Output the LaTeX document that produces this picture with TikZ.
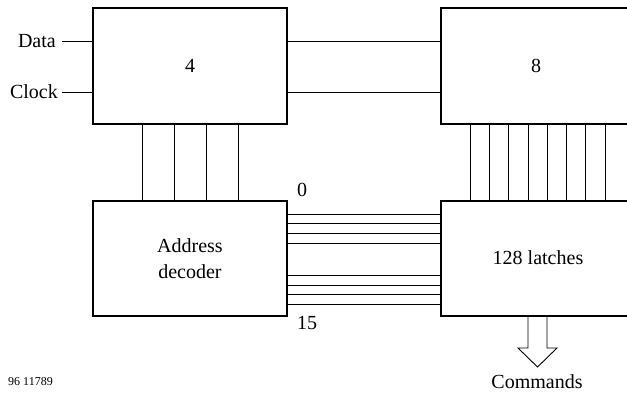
\documentclass[tikz,border=0pt]{standalone}
\usepackage{fontspec}
\setmainfont{Liberation Serif}
\begin{document}
\begin{tikzpicture}[x=1pt,y=-1pt,
  blk/.style={draw,line width=1.8pt,inner sep=0pt,font=\fontsize{20}{26}\selectfont,align=center},
  wire/.style={line width=0.8pt},
  lbl/.style={inner sep=0pt,font=\fontsize{20}{24}\selectfont}]
\useasboundingbox (0,0) rectangle (627,395);
\clip (0,0) rectangle (627,395);
% blocks
\node[blk,minimum width=194pt,minimum height=116pt] (b4) at (190,66) {4};
\node[blk,minimum width=200pt,minimum height=116pt] (b8) at (541,66) {};
\node[lbl] (t8) at (536,66) {8};
\node[blk,minimum width=194pt,minimum height=115pt,text width=194pt] (dec) at (190,258.5) {Address\\decoder};
\node[blk,minimum width=200pt,minimum height=115pt] (lat) at (541,258.5) {};
\node[lbl] (tl) at (538,258) {128 latches};
% inputs
\node[lbl,anchor=east] (data) at (56,41) {Data};
\node[lbl,anchor=east] (clock) at (58,92) {Clock};
\coordinate (dataend) at (62,41);
\coordinate (clockend) at (62,92);
\draw[wire] (dataend) -- (dataend -| b4.west);
\draw[wire] (clockend) -- (clockend -| b4.west);
% 4 -> 8
\draw[wire] (b4.east |- 0,41) -- (b8.west |- 0,41);
\draw[wire] (b4.east |- 0,92) -- (b8.west |- 0,92);
% 4 -> decoder
\foreach \x in {142,174,206,238}
  \draw[wire] (b4.south -| \x,0) -- (dec.north -| \x,0);
% 8 -> latches
\foreach \x in {470,489,508,528,547,566,585,605}
  \draw[wire] (b8.south -| \x,0) -- (lat.north -| \x,0);
% decoder -> latches
\foreach \y in {214,223,233,243,275,285,294,304}
  \draw[wire] (dec.east |- 0,\y) -- (lat.west |- 0,\y);
\node[lbl] (n0) at (302,190) {0};
\node[lbl] (n15) at (307,323) {15};
% commands arrow
\draw[line width=0.9pt] (lat.south -| 528,0) -- (528,348) -- (518,348) -- (537.5,367) -- (557,348) -- (547,348) -- (lat.south -| 547,0);
\node[lbl] (cmd) at (537,382) {Commands};
\node[inner sep=0pt,font=\fontsize{12}{14}\selectfont,anchor=west] (fig) at (8,382) {96 11789};
\end{tikzpicture}
\end{document}
